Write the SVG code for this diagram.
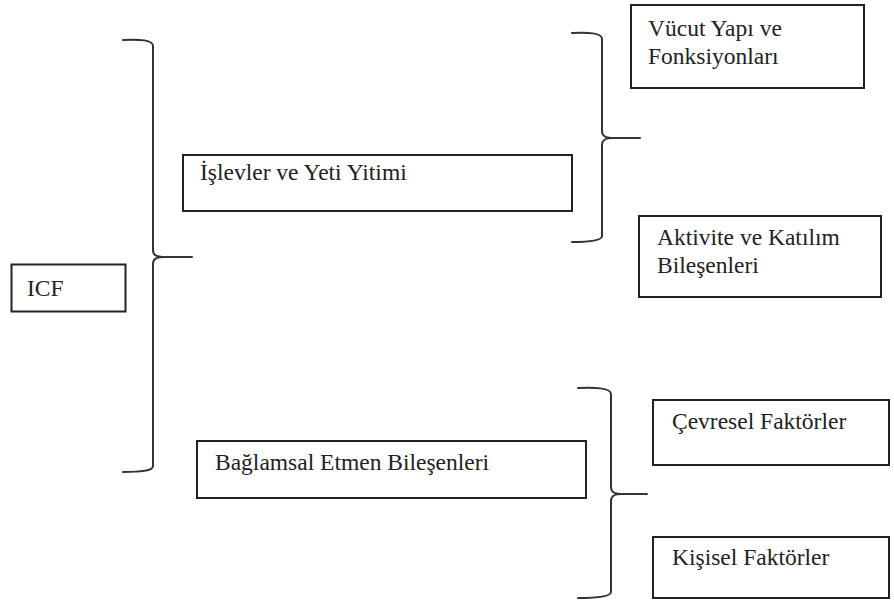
<svg xmlns="http://www.w3.org/2000/svg" width="894" height="603" viewBox="0 0 894 603">
  <style>
    .box { fill: #ffffff; stroke: #222222; stroke-width: 2; }
    .lbl { font-family: 'Liberation Serif', 'Times New Roman', serif; font-size: 23.5px; fill: #222222; }
    .brace { fill: none; stroke: #333333; stroke-width: 2; stroke-linecap: round; stroke-linejoin: round; }
  </style>
  <rect x="0" y="0" width="894" height="603" fill="#ffffff"/>

  <!-- curly-brace connectors -->
  <g id="connectors">
    <path class="brace" d="M123,40 C140,39 153,40 153,46 L153,250 C153,255 156,257 165,257 L192,257 M165,257 C156,257 153,259 153,264 L153,466 C153,471 140,472 123,472"/>
    <path class="brace" d="M572,33 C588,32 602,33 602,39 L602,131 C602,136 605,138 613,138 L640,138 M613,138 C605,138 602,140 602,145 L602,236 C602,241 588,242 572,242"/>
    <path class="brace" d="M578,388 C594,387 611,388 611,394 L611,487 C611,492 614,494 622,494 L647,494 M622,494 C614,494 611,496 611,501 L611,592 C611,597 594,598 578,598"/>
  </g>

  <g id="icf">
    <rect class="box" x="11.5" y="264.5" width="114" height="47"/>
    <text class="lbl" x="27" y="296">ICF</text>
  </g>

  <g id="islevler">
    <rect class="box" x="183" y="155" width="389" height="56"/>
    <text class="lbl" x="200" y="180">İşlevler ve Yeti Yitimi</text>
  </g>

  <g id="baglamsal">
    <rect class="box" x="197" y="441" width="389" height="57"/>
    <text class="lbl" x="215" y="470">Bağlamsal Etmen Bileşenleri</text>
  </g>

  <g id="vucut">
    <rect class="box" x="631" y="5" width="233" height="83"/>
    <text class="lbl" x="648" y="36">Vücut Yapı ve</text>
    <text class="lbl" x="648" y="64">Fonksiyonları</text>
  </g>

  <g id="aktivite">
    <rect class="box" x="639" y="216" width="242" height="81"/>
    <text class="lbl" x="657" y="245">Aktivite ve Katılım</text>
    <text class="lbl" x="657" y="273">Bileşenleri</text>
  </g>

  <g id="cevresel">
    <rect class="box" x="653" y="400" width="236" height="65"/>
    <text class="lbl" x="672" y="429">Çevresel Faktörler</text>
  </g>

  <g id="kisisel">
    <rect class="box" x="653" y="537" width="236" height="61"/>
    <text class="lbl" x="672" y="565">Kişisel Faktörler</text>
  </g>
</svg>
